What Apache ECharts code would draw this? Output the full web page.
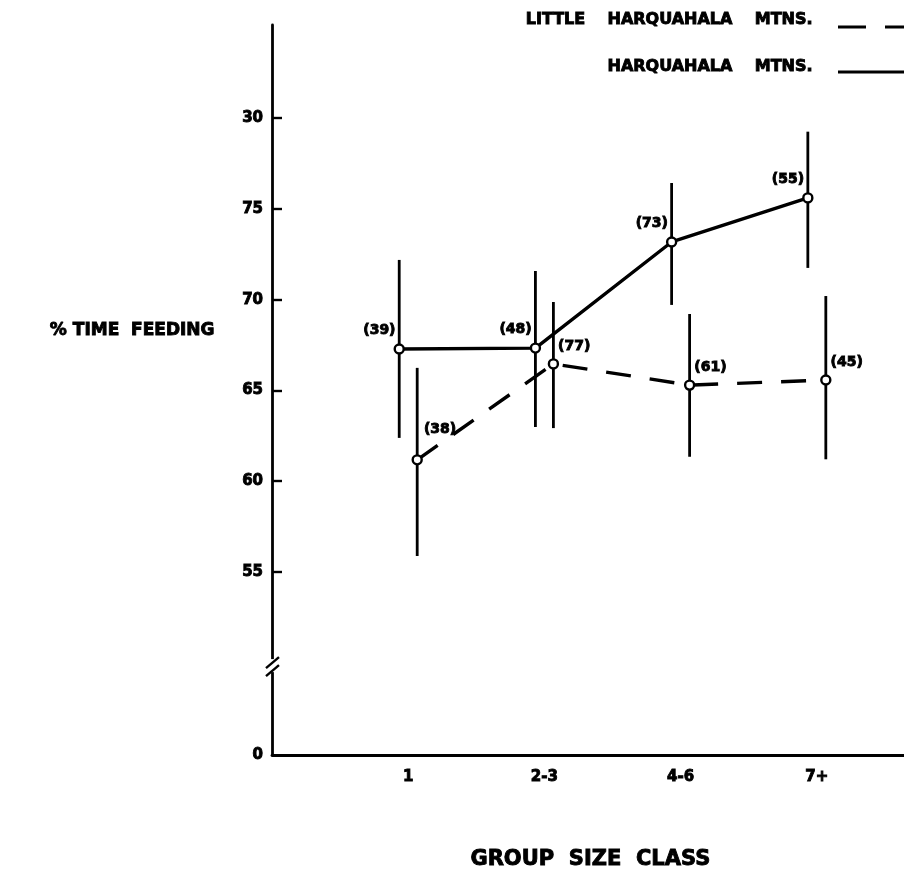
<!DOCTYPE html>
<html>
<head>
<meta charset="utf-8">
<title>% Time Feeding by Group Size Class</title>
<script src="https://cdn.jsdelivr.net/npm/echarts@6/dist/echarts.min.js"></script>
<style>
  html, body { margin: 0; padding: 0; background: #fff; }
  #chart { width: 904px; height: 876px; }
</style>
</head>
<body>
<div id="chart"></div>
<script>
// Group size classes along the x axis
const groupClasses = ['1', '2-3', '4-6', '7+'];

// Harquahala Mtns. (solid line): mean % time feeding, error bar ends, sample size
const harqMean = [67.28, 67.33, 73.18, 75.61];
const harqLow  = [62.38, 62.98, 69.71, 71.75];
const harqHigh = [72.19, 71.58, 76.43, 79.26];
const harqN    = [39, 48, 73, 55];

// Little Harquahala Mtns. (dashed line)
const littleMean = [61.17, 66.46, 65.29, 65.57];
const littleLow  = [55.87, 62.92, 61.34, 61.20];
const littleHigh = [66.24, 69.87, 69.21, 70.20];
const littleN    = [38, 77, 61, 45];

// y axis: broken between 0 and 55; the bottom of the axis stands for 0
const yAxisBottom = 44.9;
const yAxisTop = 85.14;
const yTickValues = [yAxisBottom, 55, 60, 65, 70, 75, 80];
const yTickLabels = ['0', '55', '60', '65', '70', '75', '30'];
const yTickMarks = [55, 60, 65, 70, 75, 80];
const yBreakValue = 49.8;

// ---- layout / style ----
const FONT = 'DejaVu Sans';
const SHIFT = 0.066;           // horizontal nudge so the two series don't overlap
const INK = '#000';
const HEAVY = 0.9;             // stroke added to text to get a black-weight look

function classPos(i) { return i + 1; }

function pointData(mean, n, dx) {
  return mean.map((v, i) => ({ value: [classPos(i) + dx, v], n: n[i] }));
}
function barData(low, high, dx) {
  return low.map((lo, i) => [classPos(i) + dx, lo, high[i]]);
}

const errorBarSeries = (data) => ({
  type: 'custom',
  silent: true,
  z: 2,
  data: data,
  encode: { x: 0, y: [1, 2] },
  renderItem: (params, api) => {
    const x = api.value(0);
    const p1 = api.coord([x, api.value(1)]);
    const p2 = api.coord([x, api.value(2)]);
    return {
      type: 'line',
      shape: { x1: p1[0], y1: p1[1], x2: p2[0], y2: p2[1] },
      style: { stroke: INK, lineWidth: 2.8 }
    };
  }
});

const heavyText = (size) => ({
  fontFamily: FONT, fontWeight: 'bold', fontSize: size, color: INK,
  textBorderColor: INK, textBorderWidth: HEAVY
});

const solidPoints = pointData(harqMean, harqN, -SHIFT);
const dashedPoints = pointData(littleMean, littleN, SHIFT);
// the first dashed label sits a little higher, clear of the line
dashedPoints[0].label = { offset: [1, -30] };

const chart = echarts.init(document.getElementById('chart'), null, { renderer: 'canvas' });

chart.setOption({
  animation: false,
  backgroundColor: '#fff',
  grid: { left: 272, right: 0, top: 25, bottom: 121, containLabel: false, outerBoundsMode: 'none' },
  xAxis: {
    type: 'value',
    min: 0,
    max: 4.64,
    splitLine: { show: false },
    axisTick: { show: false },
    axisLine: { show: true, lineStyle: { color: INK, width: 2.8 } },
    axisLabel: {
      customValues: groupClasses.map((c, i) => classPos(i)),
      formatter: (v) => groupClasses[Math.round(v) - 1] || '',
      margin: 15,
      ...heavyText(15)
    }
  },
  yAxis: {
    type: 'value',
    min: yAxisBottom,
    max: yAxisTop,
    splitLine: { show: false },
    axisLine: { show: true, lineStyle: { color: INK, width: 2.8 } },
    axisTick: {
      show: true, inside: true, length: 10,
      customValues: yTickMarks,
      lineStyle: { color: INK, width: 2.4 }
    },
    axisLabel: {
      customValues: yTickValues,
      formatter: (v) => {
        const i = yTickValues.findIndex(t => Math.abs(t - v) < 1e-6);
        return i >= 0 ? yTickLabels[i] : '';
      },
      margin: 9,
      ...heavyText(15)
    }
  },
  series: [
    errorBarSeries(barData(harqLow, harqHigh, -SHIFT)),
    errorBarSeries(barData(littleLow, littleHigh, SHIFT)),
    {
      name: 'HARQUAHALA MTNS.',
      type: 'line',
      z: 3,
      data: solidPoints,
      symbol: 'circle',
      symbolSize: 9,
      lineStyle: { color: INK, width: 3.4 },
      itemStyle: { color: '#fff', borderColor: INK, borderWidth: 2.4 },
      label: {
        show: true, position: 'left', distance: 0, offset: [2, -19],
        formatter: (p) => '(' + p.data.n + ')',
        ...heavyText(14)
      }
    },
    {
      name: 'LITTLE HARQUAHALA MTNS.',
      type: 'line',
      z: 3,
      data: dashedPoints,
      symbol: 'circle',
      symbolSize: 9,
      lineStyle: { color: INK, width: 3.4, type: [25, 19] },
      itemStyle: { color: '#fff', borderColor: INK, borderWidth: 2.4 },
      label: {
        show: true, position: 'right', distance: 0, offset: [-1, -18],
        formatter: (p) => '(' + p.data.n + ')',
        ...heavyText(14)
      }
    }
  ]
});

// axis titles, legend and the axis-break mark
const breakPx = chart.convertToPixel({ gridIndex: 0 }, [0, yBreakValue]);
const axisX = breakPx[0];
const breakY = breakPx[1];

const graphicText = (size) => ({
  fontFamily: FONT, fontWeight: 'bold', fontSize: size, fill: INK,
  stroke: INK, lineWidth: HEAVY
});

chart.setOption({
  graphic: [
    {
      type: 'text', right: 904 - 215, top: 322,
      style: { text: '% TIME  FEEDING', ...graphicText(17) }
    },
    {
      type: 'text', left: 470, top: 849,
      style: { text: 'GROUP  SIZE  CLASS', ...graphicText(21) }
    },
    {
      type: 'text', right: 904 - 813, top: 11,
      style: { text: 'LITTLE    HARQUAHALA    MTNS.', ...graphicText(16) }
    },
    {
      type: 'text', right: 904 - 813, top: 58,
      style: { text: 'HARQUAHALA    MTNS.', ...graphicText(16) }
    },
    {
      type: 'line', shape: { x1: 838, y1: 27, x2: 906, y2: 27 },
      style: { stroke: INK, lineWidth: 3.2, lineDash: [28, 19] }
    },
    {
      type: 'line', shape: { x1: 838, y1: 72, x2: 906, y2: 72 },
      style: { stroke: INK, lineWidth: 3.2 }
    },
    {
      type: 'rect', z: 100,
      shape: { x: axisX - 3, y: breakY - 7, width: 6, height: 13 },
      style: { fill: '#fff' }
    },
    {
      type: 'line', z: 101,
      shape: { x1: axisX + 7, y1: breakY - 9, x2: axisX - 6, y2: breakY + 2 },
      style: { stroke: INK, lineWidth: 2.4 }
    },
    {
      type: 'line', z: 101,
      shape: { x1: axisX + 7, y1: breakY - 1, x2: axisX - 6, y2: breakY + 10 },
      style: { stroke: INK, lineWidth: 2.4 }
    }
  ]
});
</script>
</body>
</html>
